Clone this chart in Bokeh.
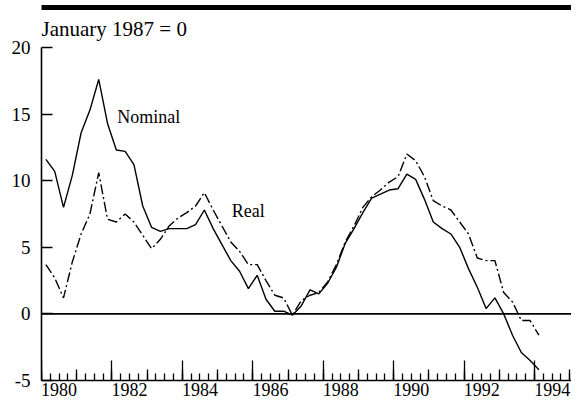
from bokeh.plotting import figure
from bokeh.models import (FixedTicker, LinearAxis, Span, Label, Title,
                          CustomJSTickFormatter, Range1d)
from bokeh.embed import file_html
from bokeh.resources import INLINE

# ---- data (quarterly, January 1987 = 0) ----
nominal = [11.6, 10.7, 8.0, 10.4, 13.6, 15.3, 17.6, 14.3, 12.3, 12.2, 11.2, 8.1,
           6.5, 6.2, 6.4, 6.4, 6.4, 6.7, 7.8, 6.4, 5.2, 4.0, 3.2, 1.9,
           2.9, 1.1, 0.2, 0.2, -0.1, 0.6, 1.8, 1.5, 2.3, 3.5, 5.3, 6.4,
           7.6, 8.7, 9.0, 9.3, 9.4, 10.5, 10.1, 8.6, 6.9, 6.4, 6.0, 5.0,
           3.4, 2.0, 0.4, 1.2, 0.0, -1.6, -2.9, -3.5, -4.2]
real = [3.7, 2.7, 1.2, 3.9, 6.0, 7.5, 10.6, 7.1, 6.9, 7.5, 6.9, 5.9,
        4.9, 5.6, 6.6, 7.2, 7.6, 8.1, 9.1, 7.8, 6.6, 5.4, 4.7, 3.7,
        3.7, 2.5, 1.4, 1.2, -0.1, 1.0, 1.4, 1.6, 2.4, 3.7, 5.4, 6.6,
        8.0, 8.8, 9.3, 9.9, 10.3, 12.0, 11.5, 10.3, 8.5, 8.1, 7.8, 6.9,
        6.0, 4.2, 4.0, 4.0, 1.6, 0.9, -0.5, -0.5, -1.6]
quarters = [f"{1980 + i // 4}Q{i % 4 + 1}" for i in range(len(nominal))]

year_labels = ["1980", "1982", "1984", "1986", "1988", "1990", "1992", "1994"]
y_ticks = [-5, 0, 5, 10, 15, 20]
note = "January 1987 = 0"

# positions: middle of each quarter
t = [int(q[:4]) + (int(q[-1]) - 1) / 4 + 0.125 for q in quarters]

FONT = "Liberation Serif"
X0, X1 = 1980, 1995.05

p = figure(width=571, height=402, output_backend="svg", toolbar_location=None,
           x_range=Range1d(X0, X1), y_range=Range1d(-5, 20),
           x_axis_type=None, min_border_left=41, min_border_right=0,
           min_border_top=47, min_border_bottom=22)
p.grid.visible = False
p.outline_line_color = None
p.background_fill_color = "white"
p.border_fill_color = "white"

# header note + top rule (in the panel above the frame)
p.add_layout(Title(text=note, align="left", text_font=FONT, text_font_size="21px",
                   text_font_style="normal", text_color="black",
                   standoff=6, padding=4, offset=-4), "above")
rule = LinearAxis(ticker=FixedTicker(ticks=[], minor_ticks=[]),
                  bounds=(X0 - 33 / 35.2, X1),
                  axis_line_color="black", axis_line_width=5,
                  major_tick_in=0, major_tick_out=0, minor_tick_in=0, minor_tick_out=0,
                  major_label_text_font_size="0px", major_label_standoff=0)
p.add_layout(rule, "above")

# y axis
ya = p.yaxis[0]
ya.ticker = FixedTicker(ticks=y_ticks, minor_ticks=[])
ya.formatter = CustomJSTickFormatter(code="return tick.toFixed(0)")
ya.major_tick_in = 11
ya.major_tick_out = 0
ya.minor_tick_in = 0
ya.minor_tick_out = 0
ya.axis_line_width = 1.6
ya.major_tick_line_width = 1.3
ya.axis_line_color = "black"
ya.major_tick_line_color = "black"
ya.major_label_text_font = FONT
ya.major_label_text_font_size = "19px"
ya.major_label_text_color = "black"
ya.major_label_standoff = 11

# x axis: labels centred on each labelled year
label_pos = [int(s) + 0.5 for s in year_labels]
xa = LinearAxis(ticker=FixedTicker(ticks=label_pos, minor_ticks=[]),
                formatter=CustomJSTickFormatter(code="return String(Math.floor(tick))"),
                major_tick_in=0, major_tick_out=0, minor_tick_in=0, minor_tick_out=0,
                axis_line_color="black", axis_line_width=1.6,
                major_label_text_font=FONT, major_label_text_font_size="18px",
                major_label_text_color="black", major_label_standoff=2)
p.add_layout(xa, "below")

years = list(range(1980, 1996))
quarter_ticks = [1980 + i * 0.25 for i in range(61)]
empty = CustomJSTickFormatter(code="return ''")
qa = LinearAxis(fixed_location=-5,
                ticker=FixedTicker(ticks=years, minor_ticks=quarter_ticks),
                formatter=empty, major_tick_in=11, major_tick_out=0,
                minor_tick_in=7, minor_tick_out=0, axis_line_color=None,
                major_tick_line_color="black", minor_tick_line_color="black",
                major_tick_line_width=1.3, minor_tick_line_width=1.3,
                major_label_standoff=0)
p.add_layout(qa, "below")
even_years = [int(s) for s in year_labels]
ea = LinearAxis(fixed_location=-5,
                ticker=FixedTicker(ticks=even_years, minor_ticks=[]),
                formatter=empty, major_tick_in=20, major_tick_out=0,
                minor_tick_in=0, minor_tick_out=0, axis_line_color=None,
                major_tick_line_color="black", major_tick_line_width=1.3,
                major_label_standoff=0)
p.add_layout(ea, "below")

# zero line
p.add_layout(Span(location=0, dimension="width", line_color="black", line_width=1.6))

# series
p.line(t, nominal, line_color="black", line_width=1.4)
p.line(t, real, line_color="black", line_width=1.4, line_dash="10 3 2 3")

# series labels
p.add_layout(Label(x=1982.15, y=14.75, text="Nominal", text_font=FONT,
                   text_font_size="18px", text_color="black", text_baseline="alphabetic"))
p.add_layout(Label(x=1985.4, y=7.7, text="Real", text_font=FONT,
                   text_font_size="18px", text_color="black", text_baseline="alphabetic"))

open("out.html", "w").write(file_html(p, INLINE))
